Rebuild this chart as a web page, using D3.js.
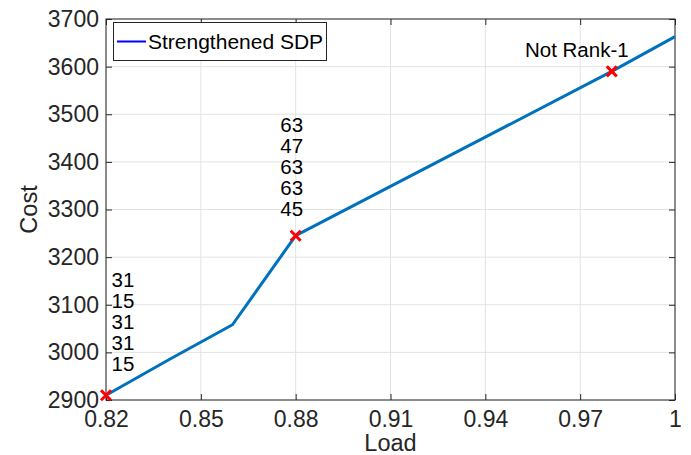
<!DOCTYPE html>
<html>
<head>
<meta charset="utf-8">
<script src="https://d3js.org/d3.v7.min.js"></script>
<style>
  body { margin: 0; background: #fff; }
  text { font-family: "Liberation Sans", Arial, sans-serif; }
</style>
</head>
<body>
<svg id="chart" width="691" height="455"></svg>
<script>
// data
var loads = [0.82, 0.84, 0.86, 0.88, 0.98, 1.0];
var costs = [2910, 2985, 3058, 3245, 3590, 3663];
var markLoads = [0.82, 0.88, 0.98];
var markCosts = [2910, 3245, 3590];
var markLabels = [["31", "15", "31", "31", "15"], ["63", "47", "63", "63", "45"], ["Not Rank-1"]];
var xTicks = [0.82, 0.85, 0.88, 0.91, 0.94, 0.97, 1];
var yTicks = [2900, 3000, 3100, 3200, 3300, 3400, 3500, 3600, 3700];

var svg = d3.select("#chart");
var pLeft = 106, pRight = 675, pTop = 19, pBottom = 400;
var x = d3.scaleLinear().domain([0.82, 1]).range([pLeft, pRight]);
var y = d3.scaleLinear().domain([2900, 3700]).range([pBottom, pTop]);
var axisCol = "#262626";

// grid
svg.append("g").selectAll("line").data(xTicks).enter().append("line")
  .attr("x1", d => x(d)).attr("x2", d => x(d)).attr("y1", pTop).attr("y2", pBottom)
  .attr("stroke", "#e3e3e3").attr("stroke-width", 1);
svg.append("g").selectAll("line").data(yTicks).enter().append("line")
  .attr("x1", pLeft).attr("x2", pRight).attr("y1", d => y(d)).attr("y2", d => y(d))
  .attr("stroke", "#e3e3e3").attr("stroke-width", 1);

// axes, ticks inside
function styleAxis(g) {
  g.select(".domain").remove();
  g.selectAll(".tick line").attr("stroke", axisCol);
  g.selectAll(".tick text").attr("fill", axisCol).style("font-size", "23px");
}
svg.append("g").attr("transform", "translate(0," + pBottom + ")")
  .call(d3.axisBottom(x).tickValues(xTicks).tickFormat(d => d === 1 ? "1" : d3.format(".2f")(d)).tickSizeInner(-6).tickPadding(6))
  .call(styleAxis)
  .selectAll(".tick text").attr("y", 26.5).attr("dy", 0);
svg.append("g").attr("transform", "translate(" + pLeft + ",0)")
  .call(d3.axisLeft(y).tickValues(yTicks).tickFormat(d3.format("d")).tickSizeInner(-6).tickPadding(7))
  .call(styleAxis);
svg.append("g").attr("transform", "translate(0," + pTop + ")")
  .call(d3.axisTop(x).tickValues(xTicks).tickSizeInner(-6).tickFormat(""))
  .call(styleAxis);
svg.append("g").attr("transform", "translate(" + pRight + ",0)")
  .call(d3.axisRight(y).tickValues(yTicks).tickSizeInner(-6).tickFormat(""))
  .call(styleAxis);
svg.append("rect").attr("x", pLeft).attr("y", pTop).attr("width", pRight - pLeft).attr("height", pBottom - pTop)
  .attr("fill", "none").attr("stroke", axisCol).attr("stroke-width", 1);

// axis labels
svg.append("text").attr("x", (pLeft + pRight) / 2).attr("y", 451).attr("text-anchor", "middle")
  .attr("fill", axisCol).style("font-size", "23.5px").text("Load");
svg.append("text").attr("transform", "translate(37," + ((pTop + pBottom) / 2) + ") rotate(-90)")
  .attr("text-anchor", "middle").attr("fill", axisCol).style("font-size", "23.5px").text("Cost");

// line
var line = d3.line().x(d => x(d[0])).y(d => y(d[1]));
svg.append("path").datum(loads.map((l, i) => [l, costs[i]]))
  .attr("d", line).attr("fill", "none").attr("stroke", "#0072BD").attr("stroke-width", 3)
  .attr("stroke-linejoin", "round");

// markers
var ms = 5;
markLoads.forEach(function(l, i) {
  var cx = x(l), cy = y(markCosts[i]);
  svg.append("path")
    .attr("d", "M" + (cx - ms) + "," + (cy - ms) + "L" + (cx + ms) + "," + (cy + ms) +
               "M" + (cx - ms) + "," + (cy + ms) + "L" + (cx + ms) + "," + (cy - ms))
    .attr("stroke", "#ff0000").attr("stroke-width", 3);
});

// labels
var dxs = [17, -4, -35], gaps = [24, 19.5, 14];
markLabels.forEach(function(lines, i) {
  var cx = x(markLoads[i]) + dxs[i], cy = y(markCosts[i]) - gaps[i];
  var n = lines.length;
  lines.forEach(function(t, j) {
    svg.append("text").attr("x", cx).attr("y", cy - (n - 1 - j) * 21)
      .attr("text-anchor", "middle").attr("fill", "#000").style("font-size", "20.5px").text(t);
  });
});

// legend
svg.append("rect").attr("x", 113.5).attr("y", 22.5).attr("width", 213).attr("height", 38)
  .attr("fill", "#fff").attr("stroke", axisCol).attr("stroke-width", 1);
svg.append("line").attr("x1", 117).attr("x2", 146).attr("y1", 41.5).attr("y2", 41.5)
  .attr("stroke", "#0000ff").attr("stroke-width", 2);
svg.append("text").attr("x", 148).attr("y", 48.5).attr("fill", "#000").style("font-size", "21px")
  .text("Strengthened SDP");
</script>
</body>
</html>
